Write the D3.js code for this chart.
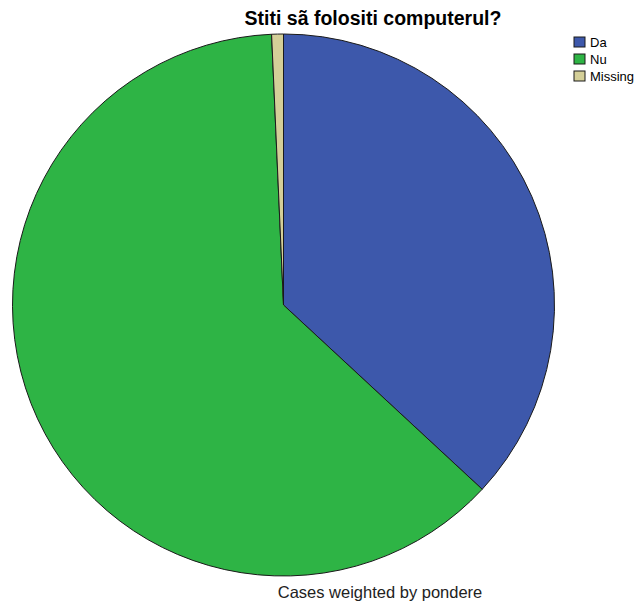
<!DOCTYPE html>
<html>
<head>
<meta charset="utf-8">
<script src="https://cdn.jsdelivr.net/npm/d3@7"></script>
<style>
  body { margin: 0; background: #fff; }
  svg { display: block; font-family: "Liberation Sans", Arial, sans-serif; }
</style>
</head>
<body>
<script>
const width = 637;
const height = 603;

const categories = ['Da', 'Nu', 'Missing'];
const percents = [36.9, 62.4, 0.7];
const colours = ['#3d58ab', '#2eb445', '#d4cf98'];

const cx = 283.5, cy = 305, radius = 271;

const svg = d3.select('body').append('svg')
  .attr('width', width)
  .attr('height', height);

const pie = d3.pie().sort(null).value((d) => d.value);
const arc = d3.arc().innerRadius(0).outerRadius(radius);

const data = categories.map((c, i) => ({ name: c, value: percents[i], colour: colours[i] }));

svg.append('g')
  .attr('transform', `translate(${cx},${cy})`)
  .selectAll('path')
  .data(pie(data))
  .join('path')
  .attr('d', arc)
  .attr('fill', (d) => d.data.colour)
  .attr('stroke', '#1a1a1a')
  .attr('stroke-width', 1)
  .attr('stroke-linejoin', 'round');

svg.append('text')
  .attr('x', 373)
  .attr('y', 25)
  .attr('text-anchor', 'middle')
  .attr('font-size', 19.5)
  .attr('font-weight', 'bold')
  .text('Stiti sã folositi computerul?');

const legend = svg.append('g').attr('transform', 'translate(574,37)');
const item = legend.selectAll('g')
  .data(data)
  .join('g')
  .attr('transform', (d, i) => `translate(0,${i * 17})`);
item.append('rect')
  .attr('width', 11)
  .attr('height', 10)
  .attr('fill', (d) => d.colour)
  .attr('stroke', '#1a1a1a')
  .attr('stroke-width', 1);
item.append('text')
  .attr('x', 16)
  .attr('y', 10)
  .attr('font-size', 13)
  .text((d) => d.name);

svg.append('text')
  .attr('x', 380)
  .attr('y', 598)
  .attr('text-anchor', 'middle')
  .attr('font-size', 16.5)
  .attr('fill', '#222')
  .text('Cases weighted by pondere');
</script>
</body>
</html>
